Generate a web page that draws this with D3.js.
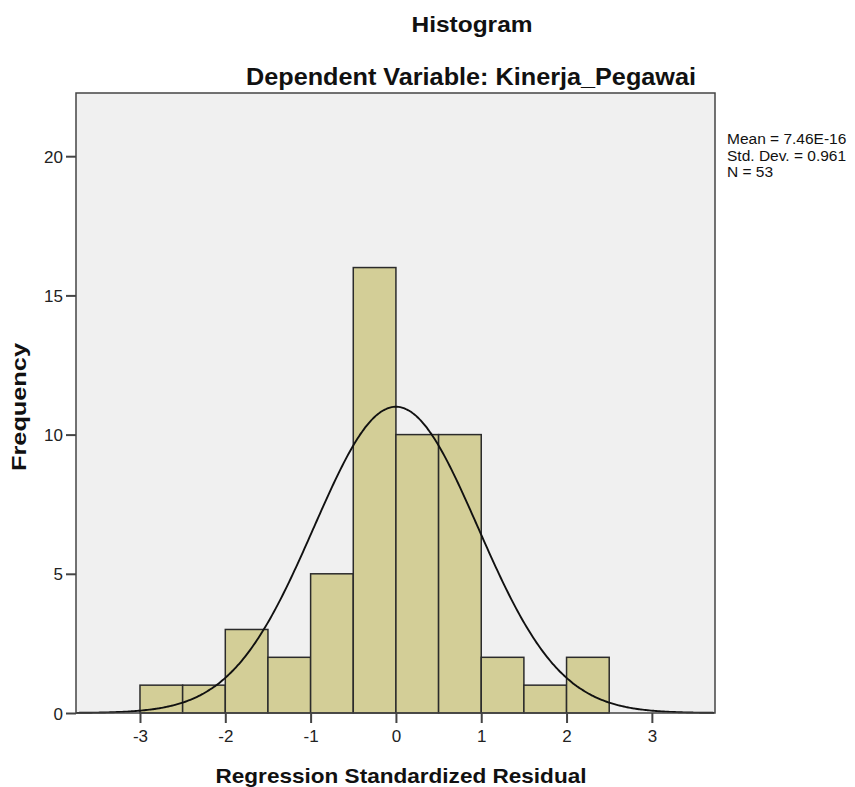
<!DOCTYPE html>
<html>
<head>
<meta charset="utf-8">
<script src="https://cdn.jsdelivr.net/npm/d3@7"></script>
<style>
  body { margin: 0; background: #fff; }
  svg { font-family: "Liberation Sans", Arial, sans-serif; }
</style>
</head>
<body>
<div id="chart"></div>
<script>
// bin edges (left edges, width 0.5) and frequencies
var binStarts = [-3, -2.5, -2, -1.5, -1, -0.5, 0, 0.5, 1, 1.5, 2];
var binCounts = [1, 1, 3, 2, 5, 16, 10, 10, 2, 1, 2];
var binWidth = 0.5;
var xTicks = [-3, -2, -1, 0, 1, 2, 3];
var yTicks = [0, 5, 10, 15, 20];
var statMean = 7.46e-16;
var statSd = 0.961;
var statN = 53;
var statLines = ['Mean = 7.46E-16', 'Std. Dev. = 0.961', 'N = 53'];

var width = 855, height = 787;
var margin = { left: 76, right: 140, top: 93, bottom: 74 };
var innerW = width - margin.left - margin.right;
var innerH = height - margin.top - margin.bottom;

var svg = d3.select('#chart').append('svg')
    .attr('width', width)
    .attr('height', height);

var x = d3.scaleLinear().domain([-3.75, 3.74]).range([0, innerW]);
var y = d3.scaleLinear().domain([0, 22.27]).range([innerH, 0]);

var g = svg.append('g')
    .attr('transform', 'translate(' + margin.left + ',' + margin.top + ')');

// plot background
g.append('rect')
    .attr('width', innerW)
    .attr('height', innerH)
    .attr('fill', '#f0f0f0');

// bars
g.selectAll('rect.bar')
    .data(binStarts)
    .enter().append('rect')
    .attr('class', 'bar')
    .attr('x', function (d) { return x(d); })
    .attr('width', function (d) { return x(d + binWidth) - x(d); })
    .attr('y', function (d, i) { return y(binCounts[i]); })
    .attr('height', function (d, i) { return innerH - y(binCounts[i]); })
    .attr('fill', '#d3ce97')
    .attr('stroke', '#2b2b2b')
    .attr('stroke-width', 1.5);

// fitted normal curve from the reported statistics
var curveXs = d3.range(-3.75, 3.7401, 0.02);
var line = d3.line()
    .x(function (d) { return x(d); })
    .y(function (d) {
        var z = (d - statMean) / statSd;
        return y(statN * binWidth * Math.exp(-0.5 * z * z) / (statSd * Math.sqrt(2 * Math.PI)));
    })
    .curve(d3.curveBasis);
g.append('path')
    .attr('d', line(curveXs))
    .attr('fill', 'none')
    .attr('stroke', '#111')
    .attr('stroke-width', 1.9);

// frame
g.append('rect')
    .attr('width', innerW)
    .attr('height', innerH)
    .attr('fill', 'none')
    .attr('stroke', '#444')
    .attr('stroke-width', 1.5);

// axes (plain hyphen minus like the original)
var fmt = function (d) { return String(d); };
var yAxis = d3.axisLeft(y).tickValues(yTicks).tickSize(10).tickPadding(3).tickFormat(fmt);
var xAxis = d3.axisBottom(x).tickValues(xTicks).tickSize(10).tickPadding(7).tickFormat(fmt);

var gy = g.append('g').call(yAxis);
var gx = g.append('g').attr('transform', 'translate(0,' + innerH + ')').call(xAxis);
[gy, gx].forEach(function (a) {
    a.select('.domain').remove();
    a.selectAll('.tick line').attr('stroke', '#444').attr('stroke-width', 2);
    a.selectAll('.tick text')
        .attr('fill', '#222')
        .style('font-size', '17px')
        .style('font-family', '"Liberation Sans", Arial, sans-serif');
});
gy.selectAll('.tick text').attr('dy', '0.36em');

function label(txt, xPos, yPos, size, len) {
    return svg.append('text')
        .attr('x', xPos).attr('y', yPos)
        .attr('text-anchor', 'middle')
        .attr('textLength', len)
        .attr('lengthAdjust', 'spacingAndGlyphs')
        .style('font-size', size + 'px').style('font-weight', 'bold')
        .attr('fill', '#111')
        .text(txt);
}

// titles
label('Histogram', 472, 32, 22, 121);
label('Dependent Variable: Kinerja_Pegawai', 471, 85, 23, 450);

// axis labels
label('Regression Standardized Residual', 401, 783, 21, 371);
label('Frequency', 0, 0, 20, 128)
    .attr('transform', 'translate(26,407) rotate(-90)');

// statistics box
svg.append('g')
    .selectAll('text')
    .data(statLines)
    .enter().append('text')
    .attr('x', 727)
    .attr('y', function (d, i) { return 144 + i * 16.5; })
    .style('font-size', '15.5px')
    .attr('fill', '#111')
    .text(function (d) { return d; });
</script>
</body>
</html>
